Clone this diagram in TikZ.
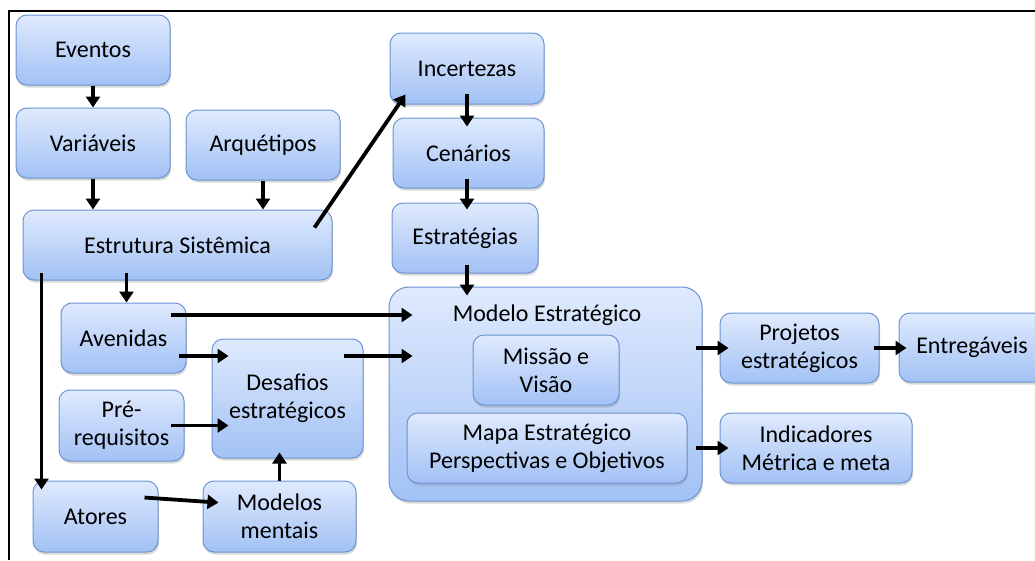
\documentclass[tikz,border=0pt]{standalone}
\usepackage{fontspec}
\setmainfont{Carlito}
\usepackage{xcolor}
\usetikzlibrary{arrows.meta,shadows}

\definecolor{boxtop}{RGB}{223,234,253}
\definecolor{boxbottom}{RGB}{162,193,245}
\definecolor{boxline}{RGB}{108,148,208}

\begin{document}
\begin{tikzpicture}[x=1pt,y=-1pt,>={Triangle[width=14pt,length=11pt]},
    box/.style={draw=boxline,line width=1pt,rounded corners=11pt,top color=boxtop,bottom color=boxbottom,
      align=center,inner sep=0pt,font=\fontsize{24}{28}\selectfont,
      drop shadow={opacity=0.3,shadow xshift=1pt,shadow yshift=-2.5pt}},
    arr/.style={->,line width=3.8pt}]
    \useasboundingbox (0,0) rectangle (1035,560);
    \draw[line width=2pt] (9,560) -- (9,11) -- (1035,11);

    \node[box,minimum width=154pt,minimum height=70pt] (eventos) at (93,50) {Eventos};
    \node[box,minimum width=154pt,minimum height=70pt] (variaveis) at (93,143) {Variáveis};
    \node[box,minimum width=154pt,minimum height=70pt] (arquetipos) at (263,145) {Arquétipos};
    \node[box,minimum width=309pt,minimum height=70pt] (estrutura) at (177.5,245) {Estrutura Sistêmica};
    \node[box,minimum width=154pt,minimum height=71pt] (incertezas) at (467,68.5) {Incertezas};
    \node[box,minimum width=151pt,minimum height=70pt] (cenarios) at (468.5,153) {Cenários};
    \node[box,minimum width=146pt,minimum height=70pt] (estrategias) at (465,238) {Estratégias};
    \node[box,minimum width=125pt,minimum height=70pt] (avenidas) at (123.5,338) {Avenidas};
    \node[box,minimum width=151pt,minimum height=119pt] (desafios) at (287.5,398.5) {Desafios\\estratégicos};
    \node[box,minimum width=125pt,minimum height=71pt] (prereq) at (121.5,425.5) {Pré-\\requisitos};
    \node[box,minimum width=125pt,minimum height=71pt] (atores) at (95.5,516.5) {Atores};
    \node[box,minimum width=153pt,minimum height=71pt] (modelos) at (279.5,516.5) {Modelos\\mentais};

    \node[box,rounded corners=20pt,minimum width=313pt,minimum height=214pt] (modelo) at (545.5,394) {};
    \node[font=\fontsize{24}{28}\selectfont] (titulo) at (547,315) {Modelo Estratégico};
    \node[box,minimum width=146pt,minimum height=70pt] (missao) at (546,370) {Missão e\\Visão};
    \node[box,minimum width=280pt,minimum height=70pt] (mapa) at (547,448) {Mapa Estratégico\\Perspectivas e Objetivos};

    \node[box,minimum width=159pt,minimum height=70pt] (projetos) at (799.5,348) {Projetos\\estratégicos};
    \node[box,minimum width=146pt,minimum height=69pt] (entregaveis) at (972,347.5) {Entregáveis};
    \node[box,minimum width=192pt,minimum height=70pt] (indicadores) at (816,448) {Indicadores\\Métrica e meta};

    \coordinate (av) at ([yshift=-18pt]avenidas.east);

    \draw[arr] (eventos.south) -- (variaveis.north);
    \draw[arr] (variaveis.south) -- (variaveis.south |- estrutura.north);
    \draw[arr] (arquetipos.south) -- (arquetipos.south |- estrutura.north);
    \draw[arr] ([xshift=-18pt,yshift=-18pt]estrutura.north east) -- ([xshift=16pt,yshift=10pt]incertezas.south west);
    \draw[arr,shorten <=-11pt,shorten >=-9pt] (incertezas.south) -- (incertezas.south |- cenarios.north);
    \draw[arr,shorten <=-10pt,shorten >=-7pt] (incertezas.south |- cenarios.south) -- (incertezas.south |- estrategias.north);
    \draw[arr,shorten <=-9pt,shorten >=-9pt] (incertezas.south |- estrategias.south) -- (incertezas.south |- modelo.north);
    \draw[arr,shorten <=-8pt] ([xshift=3pt]avenidas.north |- estrutura.south) -- ([xshift=3pt]avenidas.north);
    \draw[arr,shorten <=-8pt,shorten >=-9pt] ([xshift=9pt]atores.north west |- estrutura.south) -- ([xshift=9pt]atores.north west);
    \draw[arr,shorten <=-16pt,shorten >=-24pt] (avenidas.east |- titulo) -- (modelo.west |- titulo);
    \draw[arr,shorten <=-8pt,shorten >=-17pt] (av) -- (desafios.west |- av);
    \draw[arr,shorten <=-20pt,shorten >=-24pt] (desafios.east |- av) -- (modelo.west |- av);
    \draw[arr,shorten <=-14pt,shorten >=-17pt] (prereq.east) -- (desafios.west |- prereq.east);
    \draw[arr,shorten <=-14pt,shorten >=-16pt] ([yshift=18pt]atores.east) -- ([yshift=15pt]modelos.west);
    \draw[arr,shorten >=-6pt] (modelos.north) -- (modelos.north |- desafios.south);
    \draw[arr,shorten <=-7pt,shorten >=-9pt] (modelo.east |- projetos.west) -- (projetos.west);
    \draw[arr,shorten <=-6pt,shorten >=-8pt] (projetos.east) -- (entregaveis.west |- projetos.east);
    \draw[arr,shorten <=8pt,shorten >=-9pt] (mapa.east) -- (indicadores.west |- mapa.east);
\end{tikzpicture}
\end{document}
